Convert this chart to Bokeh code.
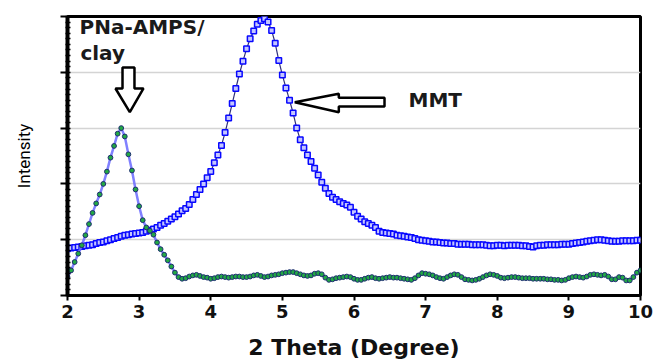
import numpy as np
from bokeh.plotting import figure
from bokeh.models import Range1d, FixedTicker, Label, ColumnDataSource, CustomJSTickFormatter
from bokeh.embed import file_html
from bokeh.resources import INLINE

# ---------------- data ----------------
x_ticks = [2, 3, 4, 5, 6, 7, 8, 9, 10]
x_start, x_end = 2.0, 10.0

# MMT pattern, sampled every 0.05 degree from 2 to 10
mmt_intensity = [
    0.84, 0.85, 0.86, 0.87, 0.88, 0.89, 0.90, 0.91, 0.93, 0.95,
    0.96, 0.98, 1.00, 1.02, 1.04, 1.06, 1.08, 1.09, 1.10, 1.11,
    1.12, 1.13, 1.15, 1.17, 1.19, 1.22, 1.26, 1.29, 1.33, 1.37,
    1.41, 1.46, 1.52, 1.56, 1.63, 1.72, 1.81, 1.90, 2.00, 2.11,
    2.22, 2.38, 2.52, 2.69, 2.92, 3.18, 3.44, 3.71, 3.97, 4.20,
    4.42, 4.60, 4.74, 4.86, 4.93, 4.96, 4.90, 4.75, 4.52, 4.21,
    3.95, 3.72, 3.50, 3.27, 3.00, 2.79, 2.65, 2.52, 2.40, 2.28,
    2.16, 2.03, 1.92, 1.83, 1.76, 1.72, 1.68, 1.65, 1.62, 1.58,
    1.49, 1.42, 1.37, 1.32, 1.29, 1.26, 1.22, 1.15, 1.13, 1.12,
    1.11, 1.10, 1.08, 1.07, 1.06, 1.05, 1.04, 1.02, 1.00, 0.99,
    0.98, 0.97, 0.96, 0.96, 0.95, 0.94, 0.94, 0.93, 0.93, 0.92,
    0.92, 0.92, 0.92, 0.91, 0.91, 0.91, 0.91, 0.90, 0.89, 0.89,
    0.90, 0.90, 0.89, 0.90, 0.90, 0.90, 0.90, 0.89, 0.89, 0.88,
    0.87, 0.89, 0.90, 0.90, 0.91, 0.91, 0.91, 0.91, 0.92, 0.92,
    0.92, 0.93, 0.94, 0.95, 0.96, 0.97, 0.98, 0.99, 1.00, 1.00,
    0.99, 0.98, 0.97, 0.97, 0.97, 0.98, 0.98, 0.98, 0.98, 0.99,
    0.99,
]

# PNa-AMPS/clay pattern, sampled every 0.05 degree from 2 to 10
clay_intensity = [
    0.33, 0.45, 0.60, 0.75, 0.90, 1.08, 1.28, 1.48, 1.65, 1.81,
    2.00, 2.22, 2.47, 2.68, 2.90, 3.00, 2.85, 2.53, 2.24, 1.90,
    1.60, 1.35, 1.22, 1.16, 1.09, 0.95, 0.83, 0.73, 0.63, 0.52,
    0.41, 0.33, 0.30, 0.31, 0.34, 0.36, 0.37, 0.35, 0.33, 0.32,
    0.30, 0.31, 0.33, 0.34, 0.33, 0.32, 0.33, 0.34, 0.34, 0.33,
    0.33, 0.34, 0.36, 0.37, 0.35, 0.33, 0.34, 0.36, 0.37, 0.38,
    0.40, 0.41, 0.42, 0.42, 0.40, 0.38, 0.36, 0.35, 0.36, 0.39,
    0.40, 0.38, 0.32, 0.28, 0.29, 0.31, 0.32, 0.33, 0.34, 0.33,
    0.30, 0.28, 0.28, 0.30, 0.32, 0.33, 0.31, 0.30, 0.31, 0.32,
    0.33, 0.32, 0.32, 0.31, 0.30, 0.29, 0.28, 0.31, 0.36, 0.40,
    0.39, 0.38, 0.36, 0.33, 0.31, 0.30, 0.33, 0.36, 0.38, 0.37,
    0.33, 0.29, 0.28, 0.27, 0.28, 0.30, 0.33, 0.36, 0.38, 0.37,
    0.35, 0.32, 0.31, 0.32, 0.33, 0.33, 0.32, 0.31, 0.31, 0.31,
    0.30, 0.30, 0.30, 0.30, 0.29, 0.29, 0.28, 0.28, 0.27, 0.28,
    0.31, 0.33, 0.34, 0.33, 0.32, 0.34, 0.37, 0.38, 0.37, 0.36,
    0.37, 0.34, 0.29, 0.29, 0.33, 0.32, 0.27, 0.27, 0.33, 0.41,
    0.45,
]

mmt_theta = np.linspace(x_start, x_end, len(mmt_intensity))
clay_theta = np.linspace(x_start, x_end, len(clay_intensity))

# ---------------- annotation geometry (data units) ----------------
down_arrow_x = [2.768, 2.935, 2.935, 3.061, 2.870, 2.670, 2.768]
down_arrow_y = [4.086, 4.086, 3.710, 3.710, 3.285, 3.710, 3.710]
left_arrow_x = [5.173, 5.788, 5.788, 6.426, 6.426, 5.788, 5.788]
left_arrow_y = [3.464, 3.615, 3.543, 3.543, 3.387, 3.387, 3.285]

# ---------------- figure ----------------
p = figure(width=659, height=363,
           x_range=Range1d(x_start, x_end), y_range=Range1d(0, 5),
           output_backend="svg", toolbar_location=None,
           min_border_left=67, min_border_right=19,
           min_border_top=16, min_border_bottom=68,
           background_fill_color="white", border_fill_color="white")

p.outline_line_color = "black"
p.outline_line_width = 3

p.xgrid.visible = False
p.ygrid.ticker = FixedTicker(ticks=[1, 2, 3, 4])
p.ygrid.grid_line_color = "#d4d4d4"
p.ygrid.grid_line_width = 1.5

# x axis
p.xaxis.ticker = FixedTicker(ticks=x_ticks)
p.xaxis.axis_line_width = 3
p.xaxis.axis_line_color = "black"
p.xaxis.major_tick_line_width = 2
p.xaxis.major_tick_out = 5
p.xaxis.major_tick_in = 0
p.xaxis.minor_tick_line_color = None
p.xaxis.major_label_text_font = "DejaVu Sans"
p.xaxis.major_label_text_font_style = "bold"
p.xaxis.major_label_text_font_size = "18px"
p.xaxis.major_label_text_color = "#111111"
p.xaxis.major_label_standoff = 4
p.xaxis.axis_label = "2 Theta (Degree)"
p.xaxis.axis_label_text_font = "DejaVu Sans"
p.xaxis.axis_label_text_font_style = "bold"
p.xaxis.axis_label_text_font_size = "22px"
p.xaxis.axis_label_text_color = "#111111"
p.xaxis.axis_label_standoff = 14

# y axis (ticks only, no numbers)
p.yaxis.ticker = FixedTicker(ticks=[0, 1, 2, 3, 4, 5],
                             minor_ticks=list(np.round(np.arange(0, 5.0001, 0.1), 2)))
p.yaxis.formatter = CustomJSTickFormatter(code="return ''")
p.yaxis.axis_line_width = 4
p.yaxis.axis_line_color = "black"
p.yaxis.major_tick_line_width = 2
p.yaxis.major_tick_out = 7
p.yaxis.major_tick_in = 0
p.yaxis.minor_tick_line_width = 1.5
p.yaxis.minor_tick_out = 2
p.yaxis.minor_tick_in = 3
p.yaxis.major_label_standoff = 0
p.yaxis.axis_label = "Intensity"
p.yaxis.axis_label_text_font = "Roboto"
p.yaxis.axis_label_text_font_style = "normal"
p.yaxis.axis_label_text_font_size = "17px"
p.yaxis.axis_label_text_color = "#000000"
p.yaxis.axis_label_standoff = 27

# series
mmt_src = ColumnDataSource(dict(x=mmt_theta, y=mmt_intensity))
clay_src = ColumnDataSource(dict(x=clay_theta, y=clay_intensity))

p.line("x", "y", source=mmt_src, line_color="#30307a", line_width=1.2)
p.scatter("x", "y", source=mmt_src, marker="square", size=5.5,
          line_color="#0808ff", fill_color="#c4c6ff", line_width=1.5)

p.line("x", "y", source=clay_src, line_color="#6a6aff", line_width=2.5, line_alpha=0.85)
p.scatter("x", "y", source=clay_src, marker="circle", size=4.8,
          line_color="#1c2c70", fill_color="#22a844", line_width=1.0)

# arrows
p.patch(down_arrow_x, down_arrow_y, fill_color="white", line_color="black", line_width=2.5)
p.patch(left_arrow_x, left_arrow_y, fill_color="white", line_color="black", line_width=2.5)

# labels
for txt, lx, ly in [("PNa-AMPS/", 2.168, 4.81), ("clay", 2.18, 4.34), ("MMT", 6.761, 3.50)]:
    p.add_layout(Label(x=lx, y=ly, text=txt, text_font="DejaVu Sans",
                       text_font_style="bold", text_font_size="20px",
                       text_color="#1a1a1a", text_baseline="alphabetic",
                       text_align="left"))

open("out.html", "w").write(file_html(p, INLINE))
